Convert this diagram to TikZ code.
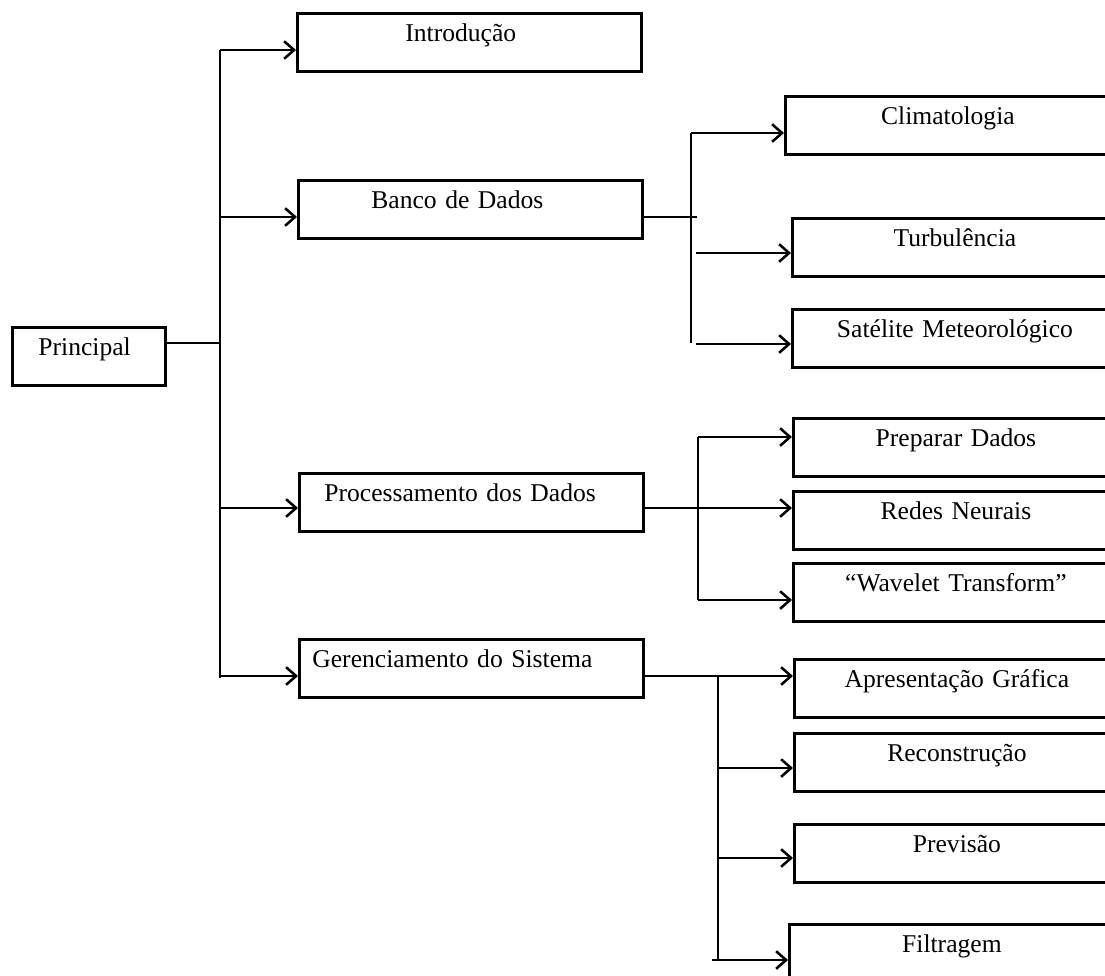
\documentclass[tikz,border=0pt]{standalone}
\usepackage{fontspec}
\setmainfont{Liberation Serif}
\usepackage{tikz}
\usetikzlibrary{arrows.meta}

\tikzset{
	box/.style={draw, line width=2pt, inner ysep=0pt, text height=7mm, text depth=7.5mm,
		align=left, anchor=north west, font=\fontsize{18.2pt}{22pt}\selectfont},
	sub/.style={box, align=center, inner xsep=0pt, text width=81.25mm},
	link/.style={line width=1.8pt},
	arr/.style={link, -{Straight Barb[length=2.5mm, width=4.4mm]}}
}

\begin{document}
\begin{tikzpicture}[x=0.25mm, y=-0.25mm]
			\useasboundingbox (0,0) rectangle (1105,975);
			\clip (0,0) rectangle (1105,975);

			% left column
			\node[box, inner xsep=6.5mm, text width=25.25mm] (principal) at (11,326) {Principal};
			\node[box, inner xsep=27mm, text width=32mm] (intro) at (296,12) {Introdução};
			\node[box, inner xsep=18.25mm, text width=49.5mm] (banco) at (297,179) {Banco de Dados};
			\node[box, inner xsep=6.25mm, text width=73.5mm] (proc) at (298,472) {Processamento dos Dados};
			\node[box, inner xsep=3.25mm, text width=79.5mm] (ger) at (298,638) {Gerenciamento do Sistema};

			% right column
			\node[sub] (clima) at (784,95) {Climatologia};
			\node[sub] (turb) at (791,217) {Turbulência};
			\node[sub] (sat) at (791,308) {Satélite Meteorológico};
			\node[sub] (prep) at (792,417) {Preparar Dados};
			\node[sub] (redes) at (792,490) {Redes Neurais};
			\node[sub] (wave) at (792,562) {“Wavelet Transform”};
			\node[sub] (apres) at (793,658) {Apresentação Gráfica};
			\node[sub] (recon) at (793,732) {Reconstrução};
			\node[sub] (prev) at (793,823) {Previsão};
			\node[sub] (filt) at (788,923) {Filtragem};

			% main trunk
			\coordinate (t0) at (220,343);
			\coordinate (t1) at (220,50);
			\coordinate (t2) at (220,217);
			\coordinate (t3) at (220,508);
			\coordinate (t4) at (220,676);
			\draw[link] (principal.east |- t0) -- (t0);
			\draw[link] (t1) -- (220,678);
			\draw[arr] (t1) -- (t1 -| intro.west);
			\draw[arr] (t2) -- (t2 -| banco.west);
			\draw[arr] (t3) -- (t3 -| proc.west);
			\draw[arr] (t4) -- (t4 -| ger.west);

			% banco de dados
			\coordinate (b0) at (697,217);
			\coordinate (b1) at (691,133);
			\coordinate (b2) at (696,253);
			\coordinate (b3) at (696,344);
			\draw[link] (banco.east |- b0) -- (b0);
			\draw[link] (b1) -- (691,343);
			\draw[arr] (b1) -- (b1 -| clima.west);
			\draw[arr] (b2) -- (b2 -| turb.west);
			\draw[arr] (b3) -- (b3 -| sat.west);

			% processamento
			\coordinate (p0) at (698,508);
			\coordinate (p1) at (698,437);
			\coordinate (p2) at (698,600);
			\draw[arr] (proc.east |- p0) -- (p0 -| redes.west);
			\draw[link] (p1) -- (p2);
			\draw[arr] (p1) -- (p1 -| prep.west);
			\draw[arr] (p2) -- (p2 -| wave.west);

			% gerenciamento
			\coordinate (g0) at (718,676);
			\coordinate (g1) at (718,768);
			\coordinate (g2) at (718,858);
			\coordinate (g3) at (712,960);
			\draw[arr] (ger.east |- g0) -- (g0 -| apres.west);
			\draw[link] (g0) -- (718,961);
			\draw[arr] (g1) -- (g1 -| recon.west);
			\draw[arr] (g2) -- (g2 -| prev.west);
			\draw[arr] (g3) -- (g3 -| filt.west);
		\end{tikzpicture}
\end{document}
